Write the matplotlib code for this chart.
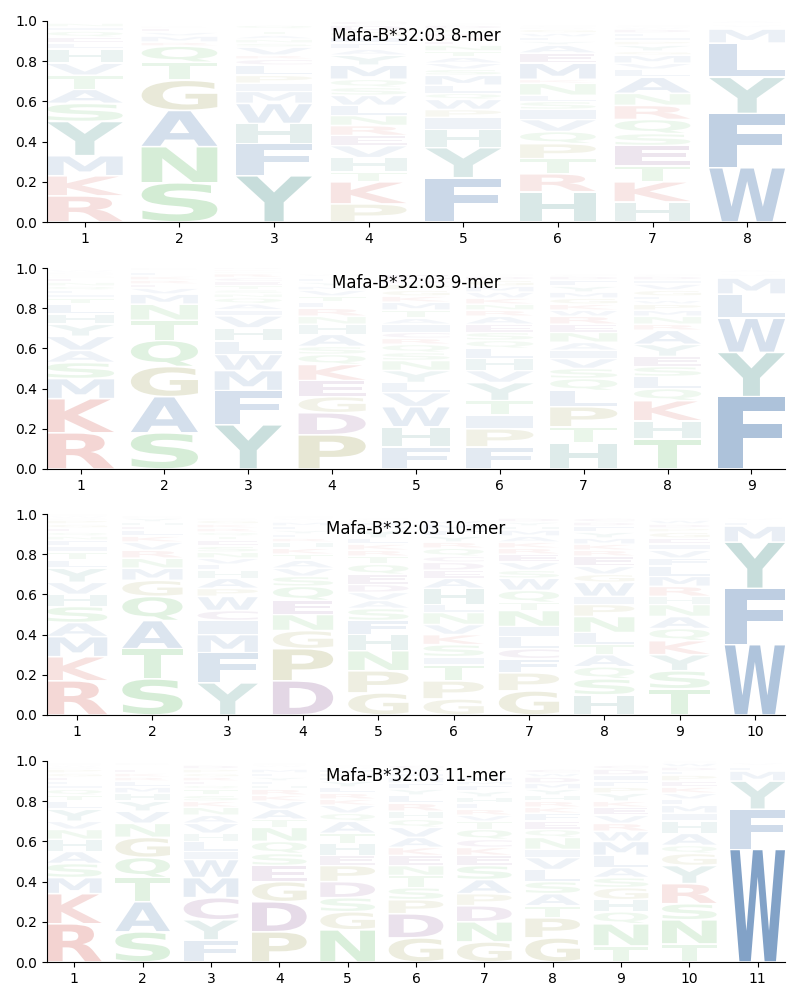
import matplotlib
matplotlib.use("Agg")
import matplotlib.pyplot as plt
from matplotlib.textpath import TextPath
from matplotlib.patches import PathPatch
from matplotlib.font_manager import FontProperties
from matplotlib.transforms import Affine2D

# ---------------- data (letters listed bottom -> top) ----------------
titles = ["Mafa-B*32:03 8-mer", "Mafa-B*32:03 9-mer",
          "Mafa-B*32:03 10-mer", "Mafa-B*32:03 11-mer"]

letters_8mer = ["RKMYSATVHLEQINF", "SNAGTQRMVEKLH", "YFHWMIPLCRVSNATEQ",
                "PKTHVERNLWSQMYAFIGDC", "FYHIPWQLMSVATNERKGDC",
                "HRTPQVISLNKMEAYFWGDC", "HKTESQRNALVMGYPIFDWC", "WFYLMIVHA"]
heights_8mer = [
    [.13, .10, .10, .17, .09, .07, .07, .06, .07, .03, .03, .03, .02, .02, .01],
    [.195, .18, .18, .15, .09, .08, .02, .03, .02, .02, .01, .01, .01],
    [.23, .16, .10, .10, .06, .04, .04, .05, .03, .02, .04, .02, .02, .02, .02, .01, .02],
    [.09, .11, .05, .07, .06, .05, .05, .05, .05, .05, .04, .04, .07, .05, .03, .03, .03, .03, .03, .02],
    [.22, .15, .09, .06, .04, .05, .03, .04, .05, .03, .03, .03, .03, .03, .02, .02, .02, .02, .02, .01],
    [.15, .09, .075, .075, .06, .06, .05, .04, .03, .06, .02, .08, .05, .04, .02, .02, .02, .02, .01, .01],
    [.10, .10, .08, .10, .06, .07, .07, .06, .08, .04, .03, .04, .02, .03, .02, .02, .02, .02, .01, .01],
    [.27, .27, .18, .17, .07, .01, .01, .01, .01],
]

letters_9mer = ["RKMSAVYHLTIFQNEGPDW", "SAGQTNMVERKLHD", "YFMWLHVIAQNSTECRPKD",
                "PDGEKQSAHNRLTVMYFIW", "FHWVLYNSQRCIATMKGPDE",
                "FPITYVHLQSEARNKWMGDC", "HTPLQSVIANERWKGMYFDC",
                "THKQLSEYARNMPWFGVIDC", "FYWLMIVHA"]
heights_9mer = [
    [.18, .17, .10, .08, .06, .07, .06, .05, .05, .03, .02, .02, .02, .02, .02, .01, .01, .01, .01],
    [.18, .18, .15, .13, .10, .08, .05, .03, .02, .02, .02, .02, .01, .01],
    [.22, .17, .10, .08, .066, .066, .06, .03, .03, .03, .02, .02, .02, .02, .02, .02, .01, .01, .01],
    [.17, .11, .08, .08, .08, .05, .04, .06, .05, .04, .04, .03, .03, .03, .02, .02, .02, .01, .01],
    [.11, .10, .10, .07, .05, .06, .05, .04, .04, .03, .03, .04, .03, .04, .04, .03, .03, .03, .02, .03],
    [.11, .09, .07, .07, .09, .06, .06, .05, .04, .04, .04, .04, .03, .03, .03, .03, .03, .03, .02, .01],
    [.13, .08, .10, .08, .06, .05, .05, .04, .04, .05, .04, .04, .03, .03, .03, .03, .03, .03, .02, .01],
    [.15, .09, .10, .06, .06, .05, .05, .06, .07, .03, .04, .03, .03, .02, .02, .03, .03, .02, .02, .01],
    [.36, .22, .17, .12, .08, .01, .01, .01, .01],
]

letters_10mer = ["RKMASHVYLTIFNQEGPDWC", "STAQGMNRVKLEHYDF", "YFMICWPAHLVNSETQRKGD",
                 "DPGNEQSVATKHRLYFMIWC", "GPNHFSAVDEQTRKLYMIWC",
                 "GPTISKVNLHAEDCQRYFMW", "GPFCLINTQWSVERKAMHYD",
                 "HSQATLNPIWGVERKMYFDC", "TSYKQANHRMLFVIEGPDWC", "WFYMLIVH"]
heights_10mer = [
    [.17, .12, .10, .07, .08, .06, .06, .07, .04, .04, .03, .03, .02, .02, .02, .02, .02, .01, .01, .01],
    [.18, .15, .14, .12, .08, .06, .05, .04, .04, .03, .03, .02, .02, .02, .01, .01],
    [.16, .15, .09, .07, .05, .07, .04, .05, .04, .03, .03, .03, .03, .03, .02, .02, .02, .02, .02, .01],
    [.17, .16, .09, .08, .07, .07, .05, .04, .04, .03, .03, .03, .02, .02, .02, .02, .02, .01, .01, .01],
    [.11, .11, .10, .08, .07, .06, .04, .04, .04, .05, .05, .04, .03, .03, .03, .04, .02, .02, .01, .01],
    [.08, .09, .08, .04, .06, .05, .05, .06, .04, .08, .05, .04, .04, .03, .04, .03, .03, .03, .03, .02],
    [.12, .09, .07, .05, .06, .05, .08, .04, .06, .06, .04, .04, .04, .03, .03, .03, .03, .02, .02, .02],
    [.10, .08, .06, .06, .05, .06, .08, .06, .04, .07, .04, .04, .05, .03, .03, .03, .03, .03, .02, .02],
    [.13, .09, .08, .07, .06, .06, .06, .04, .05, .05, .05, .04, .04, .03, .03, .03, .02, .02, .02, .01],
    [.35, .28, .23, .08, .02, .01, .01, .01],
]

letters_11mer = ["RKMSAHNVYLTQIFEGPDWC", "SATQGNVYHMLRKEFID", "FYCMWILHVANKSTQERGPD",
                 "PDGESQNTAVKRHLYFMIWC", "NGSDPEHTAQVKRLYFMIWC",
                 "GDPSTNEKAVQHRLYFMIWC", "GNDPASEKCQTVRLHYFMIW",
                 "GPTASLVINQEFKRHYMDWC", "TNQHGSALMWRVEKYPFIDC",
                 "TNSRYGQAHIMLVKEPFDWC", "WFYMLIVH"]
heights_11mer = [
    [.19, .15, .08, .07, .06, .06, .05, .04, .06, .04, .03, .03, .02, .02, .02, .02, .02, .01, .01, .01],
    [.15, .15, .12, .10, .10, .07, .06, .05, .04, .03, .03, .02, .02, .02, .01, .01, .01],
    [.11, .10, .11, .10, .09, .04, .05, .04, .05, .04, .04, .03, .03, .03, .02, .02, .02, .02, .02, .02],
    [.15, .15, .10, .08, .06, .06, .07, .04, .05, .04, .03, .03, .02, .02, .02, .02, .02, .01, .01, .01],
    [.16, .09, .07, .08, .08, .05, .06, .05, .06, .04, .04, .03, .03, .03, .03, .02, .02, .02, .01, .01],
    [.12, .12, .07, .06, .06, .05, .05, .04, .05, .05, .04, .04, .04, .04, .03, .03, .03, .02, .02, .02],
    [.10, .10, .08, .06, .07, .07, .05, .04, .04, .05, .04, .03, .03, .03, .03, .03, .03, .02, .02, .01],
    [.12, .10, .06, .06, .06, .06, .06, .04, .06, .04, .04, .04, .03, .03, .03, .03, .03, .03, .02, .02],
    [.08, .11, .06, .06, .06, .05, .05, .06, .07, .05, .04, .04, .04, .03, .04, .03, .03, .03, .03, .02],
    [.09, .12, .08, .10, .09, .06, .04, .06, .06, .04, .04, .03, .03, .03, .03, .03, .02, .02, .02, .01],
    [.56, .20, .14, .05, .02, .01, .01, .01],
]

panels_letters = [letters_8mer, letters_9mer, letters_10mer, letters_11mer]
panels_heights = [heights_8mer, heights_9mer, heights_10mer, heights_11mer]

# ---------------- style ----------------
group_colors = {
    "RK": "#c8322a",
    "STNQ": "#34a838",
    "GP": "#80801e",
    "DEC": "#6e2c7a",
    "YH": "#237b73",
    "AFILMVW": "#285fa0",
}
aa_color = {aa: c for grp, c in group_colors.items() for aa in grp}

fp = FontProperties(family="DejaVu Sans", weight="bold")
_path_cache = {}


def letter_path(ch):
    if ch not in _path_cache:
        _path_cache[ch] = TextPath((0, 0), ch, size=1, prop=fp)
    return _path_cache[ch]


def draw_letter(ax, ch, xc, y0, w, h, color, alpha):
    tp = letter_path(ch)
    ext = tp.get_extents()
    pad = 0.004
    hh = max(h - 2 * pad, 1e-4)
    t = (Affine2D().translate(-ext.x0, -ext.y0)
         .scale(w / ext.width, hh / ext.height)
         .translate(xc - w / 2, y0 + pad))
    p = t.transform_path(tp)
    ax.add_patch(PathPatch(p, facecolor=color, edgecolor="none",
                           alpha=alpha, linewidth=0))


fig = plt.figure(figsize=(8, 10), dpi=100)
tops = [21, 268, 514, 761]
left_px, right_px, h_px = 47, 785, 201

for k in range(4):
    bottom = 1 - (tops[k] + h_px) / 1000
    ax = fig.add_axes([left_px / 800, bottom, (right_px - left_px) / 800, h_px / 1000])
    letters = panels_letters[k]
    heights = panels_heights[k]
    n = len(letters)
    for i in range(n):
        y = 0.0
        for ch, hgt in zip(letters[i], heights[i]):
            draw_letter(ax, ch, i + 1, y, 0.8, hgt, aa_color[ch],
                        min(1.0, hgt + 0.02))
            y += hgt
    ax.set_xlim(0.6, n + 0.4)
    ax.set_ylim(0, 1)
    ax.set_xticks(range(1, n + 1))
    ax.set_yticks([0, 0.2, 0.4, 0.6, 0.8, 1.0])
    ax.spines["top"].set_visible(False)
    ax.spines["right"].set_visible(False)
    ax.text(0.5, 0.925, titles[k], transform=ax.transAxes,
            ha="center", va="center", fontsize=12)

fig.savefig("out.png", dpi=100)
